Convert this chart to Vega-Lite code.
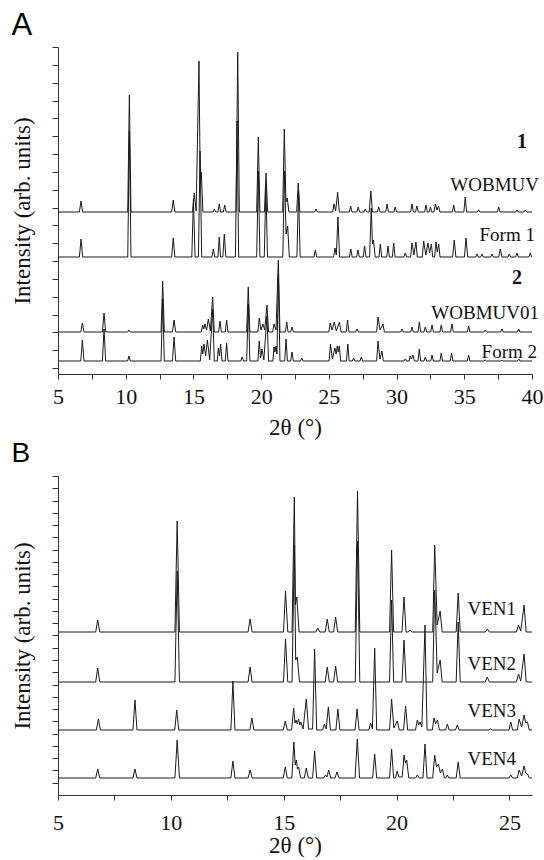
{
"$schema": "https://vega.github.io/schema/vega-lite/v6.json",
"padding": {"left": 11, "top": 9, "right": 0, "bottom": 0},
"spacing": 0,
"config": {
 "font": "Liberation Serif",
 "view": {"stroke": null},
 "axis": {"grid": false, "domainColor": "#333", "tickColor": "#333", "labelColor": "#111", "titleColor": "#111", "labelFont": "Liberation Serif", "titleFont": "Liberation Serif", "labelFontSize": 22, "titleFontSize": 23, "titleFontWeight": "normal", "domainWidth": 1, "tickWidth": 1},
 "title": {"font": "Liberation Sans", "fontWeight": "normal", "color": "#000", "anchor": "start", "frame": "bounds"}
},
"datasets": {
"a": [
{"s":"WOBMUV","x":5,"y":162},{"s":"WOBMUV","x":6.58,"y":162},{"s":"WOBMUV","x":6.7,"y":173},{"s":"WOBMUV","x":6.82,"y":162},{"s":"WOBMUV","x":10.15,"y":162},{"s":"WOBMUV","x":10.27,"y":279},{"s":"WOBMUV","x":10.39,"y":162},{"s":"WOBMUV","x":13.39,"y":162},{"s":"WOBMUV","x":13.51,"y":174},{"s":"WOBMUV","x":13.63,"y":162},{"s":"WOBMUV","x":14.94,"y":162},{"s":"WOBMUV","x":15.06,"y":181},{"s":"WOBMUV","x":15.2,"y":163},{"s":"WOBMUV","x":15.41,"y":313},{"s":"WOBMUV","x":15.5,"y":195},{"s":"WOBMUV","x":15.58,"y":202},{"s":"WOBMUV","x":15.7,"y":162},{"s":"WOBMUV","x":16.44,"y":162},{"s":"WOBMUV","x":16.54,"y":165},{"s":"WOBMUV","x":16.64,"y":162},{"s":"WOBMUV","x":16.81,"y":162},{"s":"WOBMUV","x":16.91,"y":170},{"s":"WOBMUV","x":17.01,"y":162},{"s":"WOBMUV","x":17.21,"y":162},{"s":"WOBMUV","x":17.31,"y":169},{"s":"WOBMUV","x":17.41,"y":162},{"s":"WOBMUV","x":18.15,"y":162},{"s":"WOBMUV","x":18.27,"y":322},{"s":"WOBMUV","x":18.39,"y":162},{"s":"WOBMUV","x":19.67,"y":162},{"s":"WOBMUV","x":19.79,"y":237},{"s":"WOBMUV","x":19.91,"y":162},{"s":"WOBMUV","x":20.24,"y":162},{"s":"WOBMUV","x":20.36,"y":201},{"s":"WOBMUV","x":20.48,"y":162},{"s":"WOBMUV","x":21.59,"y":162},{"s":"WOBMUV","x":21.71,"y":245},{"s":"WOBMUV","x":21.83,"y":172},{"s":"WOBMUV","x":21.93,"y":176},{"s":"WOBMUV","x":22.05,"y":162},{"s":"WOBMUV","x":22.62,"y":162},{"s":"WOBMUV","x":22.74,"y":191},{"s":"WOBMUV","x":22.86,"y":162},{"s":"WOBMUV","x":23.95,"y":162},{"s":"WOBMUV","x":24.05,"y":165},{"s":"WOBMUV","x":24.15,"y":162},{"s":"WOBMUV","x":25.28,"y":162},{"s":"WOBMUV","x":25.38,"y":170},{"s":"WOBMUV","x":25.5,"y":163},{"s":"WOBMUV","x":25.65,"y":182},{"s":"WOBMUV","x":25.77,"y":162},{"s":"WOBMUV","x":26.51,"y":162},{"s":"WOBMUV","x":26.61,"y":168},{"s":"WOBMUV","x":26.71,"y":162},{"s":"WOBMUV","x":27.07,"y":162},{"s":"WOBMUV","x":27.17,"y":167},{"s":"WOBMUV","x":27.27,"y":162},{"s":"WOBMUV","x":27.59,"y":162},{"s":"WOBMUV","x":27.69,"y":165},{"s":"WOBMUV","x":27.79,"y":162},{"s":"WOBMUV","x":27.98,"y":162},{"s":"WOBMUV","x":28.1,"y":183},{"s":"WOBMUV","x":28.22,"y":162},{"s":"WOBMUV","x":28.58,"y":162},{"s":"WOBMUV","x":28.68,"y":167},{"s":"WOBMUV","x":28.78,"y":162},{"s":"WOBMUV","x":29.2,"y":162},{"s":"WOBMUV","x":29.3,"y":170},{"s":"WOBMUV","x":29.4,"y":162},{"s":"WOBMUV","x":29.8,"y":162},{"s":"WOBMUV","x":29.9,"y":167},{"s":"WOBMUV","x":30,"y":162},{"s":"WOBMUV","x":31.04,"y":162},{"s":"WOBMUV","x":31.14,"y":170},{"s":"WOBMUV","x":31.24,"y":162},{"s":"WOBMUV","x":31.4,"y":162},{"s":"WOBMUV","x":31.5,"y":168},{"s":"WOBMUV","x":31.6,"y":162},{"s":"WOBMUV","x":32.07,"y":162},{"s":"WOBMUV","x":32.17,"y":169},{"s":"WOBMUV","x":32.27,"y":162},{"s":"WOBMUV","x":32.4,"y":162},{"s":"WOBMUV","x":32.5,"y":167},{"s":"WOBMUV","x":32.6,"y":162},{"s":"WOBMUV","x":32.76,"y":162},{"s":"WOBMUV","x":32.86,"y":170},{"s":"WOBMUV","x":32.98,"y":164},{"s":"WOBMUV","x":33.1,"y":168},{"s":"WOBMUV","x":33.2,"y":162},{"s":"WOBMUV","x":34.12,"y":162},{"s":"WOBMUV","x":34.22,"y":169},{"s":"WOBMUV","x":34.32,"y":162},{"s":"WOBMUV","x":34.97,"y":162},{"s":"WOBMUV","x":35.07,"y":177},{"s":"WOBMUV","x":35.17,"y":162},{"s":"WOBMUV","x":35.96,"y":162},{"s":"WOBMUV","x":36.06,"y":164},{"s":"WOBMUV","x":36.16,"y":162},{"s":"WOBMUV","x":37.44,"y":162},{"s":"WOBMUV","x":37.54,"y":167},{"s":"WOBMUV","x":37.64,"y":162},{"s":"WOBMUV","x":38.79,"y":162},{"s":"WOBMUV","x":38.89,"y":164},{"s":"WOBMUV","x":38.99,"y":162},{"s":"WOBMUV","x":39.4,"y":162},{"s":"WOBMUV","x":39.5,"y":164},{"s":"WOBMUV","x":39.6,"y":162},{"s":"WOBMUV","x":40,"y":162},

{"s":"Form 1","x":5,"y":117},{"s":"Form 1","x":6.58,"y":117},{"s":"Form 1","x":6.7,"y":135},{"s":"Form 1","x":6.82,"y":117},{"s":"Form 1","x":10.15,"y":117},{"s":"Form 1","x":10.27,"y":243},{"s":"Form 1","x":10.39,"y":117},{"s":"Form 1","x":13.39,"y":117},{"s":"Form 1","x":13.51,"y":136},{"s":"Form 1","x":13.63,"y":117},{"s":"Form 1","x":14.88,"y":117},{"s":"Form 1","x":15,"y":175},{"s":"Form 1","x":15.12,"y":117},{"s":"Form 1","x":15.37,"y":117},{"s":"Form 1","x":15.49,"y":223},{"s":"Form 1","x":15.61,"y":117},{"s":"Form 1","x":16.37,"y":117},{"s":"Form 1","x":16.47,"y":125},{"s":"Form 1","x":16.57,"y":117},{"s":"Form 1","x":16.81,"y":117},{"s":"Form 1","x":16.91,"y":137},{"s":"Form 1","x":17,"y":117},{"s":"Form 1","x":17.17,"y":117},{"s":"Form 1","x":17.28,"y":140},{"s":"Form 1","x":17.39,"y":117},{"s":"Form 1","x":18.1,"y":117},{"s":"Form 1","x":18.22,"y":253},{"s":"Form 1","x":18.34,"y":117},{"s":"Form 1","x":19.67,"y":117},{"s":"Form 1","x":19.79,"y":203},{"s":"Form 1","x":19.91,"y":117},{"s":"Form 1","x":20.23,"y":117},{"s":"Form 1","x":20.35,"y":188},{"s":"Form 1","x":20.47,"y":117},{"s":"Form 1","x":21.6,"y":117},{"s":"Form 1","x":21.72,"y":203},{"s":"Form 1","x":21.84,"y":140},{"s":"Form 1","x":21.96,"y":148},{"s":"Form 1","x":22.08,"y":117},{"s":"Form 1","x":22.64,"y":117},{"s":"Form 1","x":22.76,"y":183},{"s":"Form 1","x":22.88,"y":117},{"s":"Form 1","x":23.9,"y":117},{"s":"Form 1","x":24,"y":124},{"s":"Form 1","x":24.1,"y":117},{"s":"Form 1","x":25.35,"y":117},{"s":"Form 1","x":25.45,"y":126},{"s":"Form 1","x":25.55,"y":119},{"s":"Form 1","x":25.67,"y":157},{"s":"Form 1","x":25.79,"y":117},{"s":"Form 1","x":26.52,"y":117},{"s":"Form 1","x":26.62,"y":125},{"s":"Form 1","x":26.72,"y":117},{"s":"Form 1","x":27.05,"y":117},{"s":"Form 1","x":27.15,"y":124},{"s":"Form 1","x":27.25,"y":117},{"s":"Form 1","x":27.54,"y":117},{"s":"Form 1","x":27.64,"y":128},{"s":"Form 1","x":27.74,"y":117},{"s":"Form 1","x":28.01,"y":117},{"s":"Form 1","x":28.13,"y":166},{"s":"Form 1","x":28.22,"y":130},{"s":"Form 1","x":28.3,"y":134},{"s":"Form 1","x":28.42,"y":117},{"s":"Form 1","x":28.7,"y":117},{"s":"Form 1","x":28.8,"y":130},{"s":"Form 1","x":28.9,"y":117},{"s":"Form 1","x":29.27,"y":117},{"s":"Form 1","x":29.37,"y":128},{"s":"Form 1","x":29.47,"y":117},{"s":"Form 1","x":29.69,"y":117},{"s":"Form 1","x":29.79,"y":131},{"s":"Form 1","x":29.89,"y":117},{"s":"Form 1","x":30.54,"y":117},{"s":"Form 1","x":30.64,"y":121},{"s":"Form 1","x":30.74,"y":117},{"s":"Form 1","x":31.04,"y":117},{"s":"Form 1","x":31.14,"y":131},{"s":"Form 1","x":31.28,"y":119},{"s":"Form 1","x":31.43,"y":132},{"s":"Form 1","x":31.53,"y":117},{"s":"Form 1","x":31.9,"y":117},{"s":"Form 1","x":32,"y":133},{"s":"Form 1","x":32.16,"y":119},{"s":"Form 1","x":32.32,"y":131},{"s":"Form 1","x":32.44,"y":121},{"s":"Form 1","x":32.57,"y":130},{"s":"Form 1","x":32.67,"y":117},{"s":"Form 1","x":32.81,"y":117},{"s":"Form 1","x":32.91,"y":132},{"s":"Form 1","x":33.01,"y":122},{"s":"Form 1","x":33.11,"y":130},{"s":"Form 1","x":33.21,"y":117},{"s":"Form 1","x":34.14,"y":117},{"s":"Form 1","x":34.26,"y":134},{"s":"Form 1","x":34.38,"y":117},{"s":"Form 1","x":35.01,"y":117},{"s":"Form 1","x":35.13,"y":136},{"s":"Form 1","x":35.25,"y":117},{"s":"Form 1","x":35.84,"y":117},{"s":"Form 1","x":35.94,"y":120},{"s":"Form 1","x":36.04,"y":117},{"s":"Form 1","x":36.21,"y":117},{"s":"Form 1","x":36.31,"y":120},{"s":"Form 1","x":36.41,"y":117},{"s":"Form 1","x":36.95,"y":117},{"s":"Form 1","x":37.05,"y":120},{"s":"Form 1","x":37.15,"y":117},{"s":"Form 1","x":37.54,"y":117},{"s":"Form 1","x":37.66,"y":125},{"s":"Form 1","x":37.78,"y":117},{"s":"Form 1","x":38.22,"y":117},{"s":"Form 1","x":38.32,"y":120},{"s":"Form 1","x":38.42,"y":117},{"s":"Form 1","x":38.79,"y":117},{"s":"Form 1","x":38.89,"y":121},{"s":"Form 1","x":38.99,"y":117},{"s":"Form 1","x":39.77,"y":117},{"s":"Form 1","x":39.87,"y":121},{"s":"Form 1","x":39.97,"y":117},{"s":"Form 1","x":40,"y":117},

{"s":"WOBMUV01","x":5,"y":42},{"s":"WOBMUV01","x":6.68,"y":42},{"s":"WOBMUV01","x":6.8,"y":51},{"s":"WOBMUV01","x":6.92,"y":42},{"s":"WOBMUV01","x":8.28,"y":42},{"s":"WOBMUV01","x":8.4,"y":61},{"s":"WOBMUV01","x":8.52,"y":42},{"s":"WOBMUV01","x":10.14,"y":42},{"s":"WOBMUV01","x":10.24,"y":44},{"s":"WOBMUV01","x":10.34,"y":42},{"s":"WOBMUV01","x":12.61,"y":42},{"s":"WOBMUV01","x":12.73,"y":93},{"s":"WOBMUV01","x":12.85,"y":42},{"s":"WOBMUV01","x":13.45,"y":42},{"s":"WOBMUV01","x":13.57,"y":54},{"s":"WOBMUV01","x":13.69,"y":42},{"s":"WOBMUV01","x":15.58,"y":42},{"s":"WOBMUV01","x":15.68,"y":49},{"s":"WOBMUV01","x":15.76,"y":45},{"s":"WOBMUV01","x":15.85,"y":50},{"s":"WOBMUV01","x":15.97,"y":44},{"s":"WOBMUV01","x":16.1,"y":55},{"s":"WOBMUV01","x":16.25,"y":43},{"s":"WOBMUV01","x":16.42,"y":77},{"s":"WOBMUV01","x":16.54,"y":42},{"s":"WOBMUV01","x":16.86,"y":42},{"s":"WOBMUV01","x":16.96,"y":53},{"s":"WOBMUV01","x":17.06,"y":42},{"s":"WOBMUV01","x":17.35,"y":42},{"s":"WOBMUV01","x":17.45,"y":54},{"s":"WOBMUV01","x":17.55,"y":42},{"s":"WOBMUV01","x":18.93,"y":42},{"s":"WOBMUV01","x":19.05,"y":87},{"s":"WOBMUV01","x":19.17,"y":42},{"s":"WOBMUV01","x":19.76,"y":42},{"s":"WOBMUV01","x":19.86,"y":56},{"s":"WOBMUV01","x":19.99,"y":44},{"s":"WOBMUV01","x":20.13,"y":50},{"s":"WOBMUV01","x":20.26,"y":44},{"s":"WOBMUV01","x":20.43,"y":69},{"s":"WOBMUV01","x":20.55,"y":42},{"s":"WOBMUV01","x":20.85,"y":42},{"s":"WOBMUV01","x":20.95,"y":50},{"s":"WOBMUV01","x":21.1,"y":44},{"s":"WOBMUV01","x":21.27,"y":114},{"s":"WOBMUV01","x":21.39,"y":42},{"s":"WOBMUV01","x":21.79,"y":42},{"s":"WOBMUV01","x":21.89,"y":52},{"s":"WOBMUV01","x":21.99,"y":42},{"s":"WOBMUV01","x":22.18,"y":42},{"s":"WOBMUV01","x":22.28,"y":47},{"s":"WOBMUV01","x":22.38,"y":42},{"s":"WOBMUV01","x":25,"y":42},{"s":"WOBMUV01","x":25.1,"y":51},{"s":"WOBMUV01","x":25.24,"y":44},{"s":"WOBMUV01","x":25.4,"y":52},{"s":"WOBMUV01","x":25.55,"y":43},{"s":"WOBMUV01","x":25.78,"y":52},{"s":"WOBMUV01","x":25.9,"y":42},{"s":"WOBMUV01","x":26.28,"y":42},{"s":"WOBMUV01","x":26.38,"y":54},{"s":"WOBMUV01","x":26.48,"y":42},{"s":"WOBMUV01","x":26.98,"y":42},{"s":"WOBMUV01","x":27.08,"y":45},{"s":"WOBMUV01","x":27.18,"y":42},{"s":"WOBMUV01","x":28.53,"y":42},{"s":"WOBMUV01","x":28.63,"y":57},{"s":"WOBMUV01","x":28.78,"y":44},{"s":"WOBMUV01","x":29,"y":50},{"s":"WOBMUV01","x":29.1,"y":42},{"s":"WOBMUV01","x":30.3,"y":42},{"s":"WOBMUV01","x":30.4,"y":45},{"s":"WOBMUV01","x":30.5,"y":42},{"s":"WOBMUV01","x":31.04,"y":42},{"s":"WOBMUV01","x":31.14,"y":47},{"s":"WOBMUV01","x":31.24,"y":42},{"s":"WOBMUV01","x":31.58,"y":42},{"s":"WOBMUV01","x":31.68,"y":52},{"s":"WOBMUV01","x":31.78,"y":42},{"s":"WOBMUV01","x":32.02,"y":42},{"s":"WOBMUV01","x":32.12,"y":47},{"s":"WOBMUV01","x":32.22,"y":42},{"s":"WOBMUV01","x":32.52,"y":42},{"s":"WOBMUV01","x":32.62,"y":49},{"s":"WOBMUV01","x":32.72,"y":42},{"s":"WOBMUV01","x":33.2,"y":42},{"s":"WOBMUV01","x":33.3,"y":49},{"s":"WOBMUV01","x":33.4,"y":42},{"s":"WOBMUV01","x":33.99,"y":42},{"s":"WOBMUV01","x":34.09,"y":50},{"s":"WOBMUV01","x":34.19,"y":42},{"s":"WOBMUV01","x":35.22,"y":42},{"s":"WOBMUV01","x":35.32,"y":48},{"s":"WOBMUV01","x":35.42,"y":42},{"s":"WOBMUV01","x":36.45,"y":42},{"s":"WOBMUV01","x":36.55,"y":44},{"s":"WOBMUV01","x":36.65,"y":42},{"s":"WOBMUV01","x":37.68,"y":42},{"s":"WOBMUV01","x":37.78,"y":45},{"s":"WOBMUV01","x":37.88,"y":42},{"s":"WOBMUV01","x":38.92,"y":42},{"s":"WOBMUV01","x":39.02,"y":45},{"s":"WOBMUV01","x":39.12,"y":42},{"s":"WOBMUV01","x":40,"y":42},

{"s":"Form 2","x":5,"y":13},{"s":"Form 2","x":6.68,"y":13},{"s":"Form 2","x":6.8,"y":34},{"s":"Form 2","x":6.92,"y":13},{"s":"Form 2","x":8.28,"y":13},{"s":"Form 2","x":8.4,"y":45},{"s":"Form 2","x":8.52,"y":13},{"s":"Form 2","x":10.14,"y":13},{"s":"Form 2","x":10.24,"y":18},{"s":"Form 2","x":10.34,"y":13},{"s":"Form 2","x":12.61,"y":13},{"s":"Form 2","x":12.73,"y":75},{"s":"Form 2","x":12.85,"y":13},{"s":"Form 2","x":13.45,"y":13},{"s":"Form 2","x":13.57,"y":37},{"s":"Form 2","x":13.69,"y":13},{"s":"Form 2","x":15.51,"y":13},{"s":"Form 2","x":15.61,"y":28},{"s":"Form 2","x":15.69,"y":20},{"s":"Form 2","x":15.78,"y":30},{"s":"Form 2","x":15.9,"y":18},{"s":"Form 2","x":16.03,"y":34},{"s":"Form 2","x":16.2,"y":14},{"s":"Form 2","x":16.42,"y":65},{"s":"Form 2","x":16.54,"y":13},{"s":"Form 2","x":16.76,"y":13},{"s":"Form 2","x":16.84,"y":26},{"s":"Form 2","x":16.92,"y":18},{"s":"Form 2","x":17.01,"y":30},{"s":"Form 2","x":17.11,"y":13},{"s":"Form 2","x":17.35,"y":13},{"s":"Form 2","x":17.45,"y":31},{"s":"Form 2","x":17.55,"y":13},{"s":"Form 2","x":18.5,"y":13},{"s":"Form 2","x":18.6,"y":17},{"s":"Form 2","x":18.7,"y":13},{"s":"Form 2","x":18.93,"y":13},{"s":"Form 2","x":19.05,"y":70},{"s":"Form 2","x":19.17,"y":13},{"s":"Form 2","x":19.76,"y":13},{"s":"Form 2","x":19.86,"y":33},{"s":"Form 2","x":19.96,"y":16},{"s":"Form 2","x":20.06,"y":25},{"s":"Form 2","x":20.2,"y":14},{"s":"Form 2","x":20.43,"y":58},{"s":"Form 2","x":20.55,"y":13},{"s":"Form 2","x":20.87,"y":13},{"s":"Form 2","x":20.95,"y":27},{"s":"Form 2","x":21.02,"y":22},{"s":"Form 2","x":21.1,"y":28},{"s":"Form 2","x":21.17,"y":20},{"s":"Form 2","x":21.27,"y":100},{"s":"Form 2","x":21.39,"y":13},{"s":"Form 2","x":21.74,"y":13},{"s":"Form 2","x":21.84,"y":35},{"s":"Form 2","x":21.94,"y":13},{"s":"Form 2","x":22.18,"y":13},{"s":"Form 2","x":22.28,"y":22},{"s":"Form 2","x":22.38,"y":13},{"s":"Form 2","x":22.9,"y":13},{"s":"Form 2","x":23,"y":16},{"s":"Form 2","x":23.1,"y":13},{"s":"Form 2","x":25.02,"y":13},{"s":"Form 2","x":25.12,"y":30},{"s":"Form 2","x":25.26,"y":15},{"s":"Form 2","x":25.45,"y":26},{"s":"Form 2","x":25.54,"y":20},{"s":"Form 2","x":25.62,"y":28},{"s":"Form 2","x":25.7,"y":22},{"s":"Form 2","x":25.77,"y":28},{"s":"Form 2","x":25.87,"y":13},{"s":"Form 2","x":26.3,"y":13},{"s":"Form 2","x":26.4,"y":30},{"s":"Form 2","x":26.5,"y":13},{"s":"Form 2","x":26.73,"y":13},{"s":"Form 2","x":26.83,"y":16},{"s":"Form 2","x":26.93,"y":13},{"s":"Form 2","x":27.3,"y":13},{"s":"Form 2","x":27.4,"y":17},{"s":"Form 2","x":27.5,"y":13},{"s":"Form 2","x":28.53,"y":13},{"s":"Form 2","x":28.63,"y":33},{"s":"Form 2","x":28.77,"y":15},{"s":"Form 2","x":28.92,"y":23},{"s":"Form 2","x":29.02,"y":13},{"s":"Form 2","x":30.54,"y":13},{"s":"Form 2","x":30.64,"y":15},{"s":"Form 2","x":30.74,"y":13},{"s":"Form 2","x":30.92,"y":13},{"s":"Form 2","x":31,"y":18},{"s":"Form 2","x":31.1,"y":15},{"s":"Form 2","x":31.21,"y":19},{"s":"Form 2","x":31.31,"y":13},{"s":"Form 2","x":31.58,"y":13},{"s":"Form 2","x":31.68,"y":25},{"s":"Form 2","x":31.78,"y":13},{"s":"Form 2","x":32.02,"y":13},{"s":"Form 2","x":32.12,"y":17},{"s":"Form 2","x":32.22,"y":13},{"s":"Form 2","x":32.52,"y":13},{"s":"Form 2","x":32.62,"y":19},{"s":"Form 2","x":32.72,"y":13},{"s":"Form 2","x":33.2,"y":13},{"s":"Form 2","x":33.3,"y":21},{"s":"Form 2","x":33.4,"y":13},{"s":"Form 2","x":33.96,"y":13},{"s":"Form 2","x":34.06,"y":21},{"s":"Form 2","x":34.16,"y":13},{"s":"Form 2","x":35.22,"y":13},{"s":"Form 2","x":35.32,"y":19},{"s":"Form 2","x":35.42,"y":13},{"s":"Form 2","x":36.45,"y":13},{"s":"Form 2","x":36.55,"y":14},{"s":"Form 2","x":36.65,"y":13},{"s":"Form 2","x":37.68,"y":13},{"s":"Form 2","x":37.78,"y":14},{"s":"Form 2","x":37.88,"y":13},{"s":"Form 2","x":38.92,"y":13},{"s":"Form 2","x":39.02,"y":15},{"s":"Form 2","x":39.12,"y":13},{"s":"Form 2","x":40,"y":13}
],
"b": [
{"s":"VEN1","x":5,"y":163},{"s":"VEN1","x":6.67,"y":163},{"s":"VEN1","x":6.76,"y":175},{"s":"VEN1","x":6.85,"y":163},{"s":"VEN1","x":10.18,"y":163},{"s":"VEN1","x":10.28,"y":274},{"s":"VEN1","x":10.38,"y":163},{"s":"VEN1","x":13.42,"y":163},{"s":"VEN1","x":13.51,"y":176},{"s":"VEN1","x":13.6,"y":163},{"s":"VEN1","x":14.99,"y":163},{"s":"VEN1","x":15.08,"y":204},{"s":"VEN1","x":15.18,"y":163},{"s":"VEN1","x":15.37,"y":163},{"s":"VEN1","x":15.47,"y":298},{"s":"VEN1","x":15.52,"y":190},{"s":"VEN1","x":15.58,"y":198},{"s":"VEN1","x":15.68,"y":163},{"s":"VEN1","x":16.42,"y":163},{"s":"VEN1","x":16.51,"y":167},{"s":"VEN1","x":16.6,"y":163},{"s":"VEN1","x":16.84,"y":163},{"s":"VEN1","x":16.93,"y":176},{"s":"VEN1","x":17.02,"y":163},{"s":"VEN1","x":17.21,"y":163},{"s":"VEN1","x":17.3,"y":178},{"s":"VEN1","x":17.39,"y":163},{"s":"VEN1","x":18.17,"y":163},{"s":"VEN1","x":18.27,"y":304},{"s":"VEN1","x":18.37,"y":163},{"s":"VEN1","x":19.69,"y":163},{"s":"VEN1","x":19.78,"y":245},{"s":"VEN1","x":19.87,"y":163},{"s":"VEN1","x":20.24,"y":163},{"s":"VEN1","x":20.33,"y":198},{"s":"VEN1","x":20.42,"y":163},{"s":"VEN1","x":20.52,"y":163},{"s":"VEN1","x":20.6,"y":165},{"s":"VEN1","x":20.68,"y":163},{"s":"VEN1","x":21.6,"y":163},{"s":"VEN1","x":21.69,"y":250},{"s":"VEN1","x":21.8,"y":170},{"s":"VEN1","x":21.93,"y":184},{"s":"VEN1","x":22.02,"y":163},{"s":"VEN1","x":22.64,"y":163},{"s":"VEN1","x":22.73,"y":202},{"s":"VEN1","x":22.82,"y":163},{"s":"VEN1","x":23.93,"y":163},{"s":"VEN1","x":24.02,"y":166},{"s":"VEN1","x":24.11,"y":163},{"s":"VEN1","x":25.31,"y":163},{"s":"VEN1","x":25.4,"y":170},{"s":"VEN1","x":25.5,"y":164},{"s":"VEN1","x":25.65,"y":190},{"s":"VEN1","x":25.74,"y":163},{"s":"VEN1","x":26,"y":163},

{"s":"VEN2","x":5,"y":113},{"s":"VEN2","x":6.67,"y":113},{"s":"VEN2","x":6.76,"y":127},{"s":"VEN2","x":6.85,"y":113},{"s":"VEN2","x":10.18,"y":113},{"s":"VEN2","x":10.28,"y":224},{"s":"VEN2","x":10.38,"y":113},{"s":"VEN2","x":13.42,"y":113},{"s":"VEN2","x":13.51,"y":128},{"s":"VEN2","x":13.6,"y":113},{"s":"VEN2","x":14.99,"y":113},{"s":"VEN2","x":15.08,"y":156},{"s":"VEN2","x":15.18,"y":113},{"s":"VEN2","x":15.37,"y":113},{"s":"VEN2","x":15.47,"y":250},{"s":"VEN2","x":15.53,"y":135},{"s":"VEN2","x":15.6,"y":138},{"s":"VEN2","x":15.7,"y":113},{"s":"VEN2","x":16.84,"y":113},{"s":"VEN2","x":16.93,"y":128},{"s":"VEN2","x":17.02,"y":113},{"s":"VEN2","x":17.21,"y":113},{"s":"VEN2","x":17.3,"y":129},{"s":"VEN2","x":17.39,"y":113},{"s":"VEN2","x":18.17,"y":113},{"s":"VEN2","x":18.27,"y":254},{"s":"VEN2","x":18.37,"y":113},{"s":"VEN2","x":19.69,"y":113},{"s":"VEN2","x":19.78,"y":195},{"s":"VEN2","x":19.87,"y":113},{"s":"VEN2","x":20.24,"y":113},{"s":"VEN2","x":20.33,"y":155},{"s":"VEN2","x":20.42,"y":113},{"s":"VEN2","x":21.6,"y":113},{"s":"VEN2","x":21.69,"y":205},{"s":"VEN2","x":21.8,"y":122},{"s":"VEN2","x":21.93,"y":135},{"s":"VEN2","x":22.02,"y":113},{"s":"VEN2","x":22.64,"y":113},{"s":"VEN2","x":22.73,"y":173},{"s":"VEN2","x":22.82,"y":113},{"s":"VEN2","x":23.93,"y":113},{"s":"VEN2","x":24.02,"y":118},{"s":"VEN2","x":24.11,"y":113},{"s":"VEN2","x":25.31,"y":113},{"s":"VEN2","x":25.4,"y":121},{"s":"VEN2","x":25.5,"y":114},{"s":"VEN2","x":25.65,"y":141},{"s":"VEN2","x":25.74,"y":113},{"s":"VEN2","x":26,"y":113},

{"s":"VEN3","x":5,"y":65},{"s":"VEN3","x":6.7,"y":65},{"s":"VEN3","x":6.79,"y":76},{"s":"VEN3","x":6.88,"y":65},{"s":"VEN3","x":8.32,"y":65},{"s":"VEN3","x":8.41,"y":95},{"s":"VEN3","x":8.5,"y":65},{"s":"VEN3","x":10.17,"y":65},{"s":"VEN3","x":10.26,"y":85},{"s":"VEN3","x":10.35,"y":65},{"s":"VEN3","x":12.66,"y":65},{"s":"VEN3","x":12.75,"y":114},{"s":"VEN3","x":12.84,"y":65},{"s":"VEN3","x":13.5,"y":65},{"s":"VEN3","x":13.59,"y":77},{"s":"VEN3","x":13.68,"y":65},{"s":"VEN3","x":14.98,"y":65},{"s":"VEN3","x":15.07,"y":74},{"s":"VEN3","x":15.16,"y":65},{"s":"VEN3","x":15.35,"y":65},{"s":"VEN3","x":15.44,"y":87},{"s":"VEN3","x":15.5,"y":72},{"s":"VEN3","x":15.55,"y":75},{"s":"VEN3","x":15.6,"y":71},{"s":"VEN3","x":15.66,"y":76},{"s":"VEN3","x":15.71,"y":70},{"s":"VEN3","x":15.76,"y":73},{"s":"VEN3","x":15.86,"y":66},{"s":"VEN3","x":16,"y":96},{"s":"VEN3","x":16.1,"y":66},{"s":"VEN3","x":16.28,"y":66},{"s":"VEN3","x":16.37,"y":146},{"s":"VEN3","x":16.46,"y":65},{"s":"VEN3","x":16.72,"y":65},{"s":"VEN3","x":16.8,"y":71},{"s":"VEN3","x":16.88,"y":66},{"s":"VEN3","x":16.98,"y":88},{"s":"VEN3","x":17.07,"y":65},{"s":"VEN3","x":17.31,"y":65},{"s":"VEN3","x":17.4,"y":86},{"s":"VEN3","x":17.49,"y":65},{"s":"VEN3","x":18.16,"y":65},{"s":"VEN3","x":18.25,"y":86},{"s":"VEN3","x":18.34,"y":65},{"s":"VEN3","x":18.77,"y":65},{"s":"VEN3","x":18.85,"y":72},{"s":"VEN3","x":18.93,"y":66},{"s":"VEN3","x":19.03,"y":147},{"s":"VEN3","x":19.12,"y":65},{"s":"VEN3","x":19.69,"y":65},{"s":"VEN3","x":19.78,"y":96},{"s":"VEN3","x":19.88,"y":67},{"s":"VEN3","x":20.03,"y":74},{"s":"VEN3","x":20.12,"y":65},{"s":"VEN3","x":20.31,"y":65},{"s":"VEN3","x":20.4,"y":89},{"s":"VEN3","x":20.49,"y":65},{"s":"VEN3","x":20.84,"y":65},{"s":"VEN3","x":20.92,"y":75},{"s":"VEN3","x":20.98,"y":70},{"s":"VEN3","x":21.04,"y":73},{"s":"VEN3","x":21.12,"y":68},{"s":"VEN3","x":21.26,"y":170},{"s":"VEN3","x":21.35,"y":65},{"s":"VEN3","x":21.58,"y":65},{"s":"VEN3","x":21.66,"y":77},{"s":"VEN3","x":21.73,"y":71},{"s":"VEN3","x":21.81,"y":75},{"s":"VEN3","x":21.9,"y":65},{"s":"VEN3","x":22.17,"y":65},{"s":"VEN3","x":22.25,"y":71},{"s":"VEN3","x":22.33,"y":65},{"s":"VEN3","x":22.61,"y":65},{"s":"VEN3","x":22.69,"y":70},{"s":"VEN3","x":22.77,"y":65},{"s":"VEN3","x":24.09,"y":65},{"s":"VEN3","x":24.17,"y":66},{"s":"VEN3","x":24.25,"y":65},{"s":"VEN3","x":24.98,"y":65},{"s":"VEN3","x":25.06,"y":73},{"s":"VEN3","x":25.14,"y":65},{"s":"VEN3","x":25.35,"y":65},{"s":"VEN3","x":25.43,"y":76},{"s":"VEN3","x":25.54,"y":68},{"s":"VEN3","x":25.65,"y":80},{"s":"VEN3","x":25.72,"y":72},{"s":"VEN3","x":25.8,"y":73},{"s":"VEN3","x":25.88,"y":65},{"s":"VEN3","x":26,"y":65},

{"s":"VEN4","x":5,"y":17},{"s":"VEN4","x":6.67,"y":17},{"s":"VEN4","x":6.76,"y":26},{"s":"VEN4","x":6.85,"y":17},{"s":"VEN4","x":8.32,"y":17},{"s":"VEN4","x":8.41,"y":26},{"s":"VEN4","x":8.5,"y":17},{"s":"VEN4","x":10.18,"y":17},{"s":"VEN4","x":10.28,"y":55},{"s":"VEN4","x":10.38,"y":17},{"s":"VEN4","x":12.66,"y":17},{"s":"VEN4","x":12.75,"y":34},{"s":"VEN4","x":12.84,"y":17},{"s":"VEN4","x":13.42,"y":17},{"s":"VEN4","x":13.51,"y":25},{"s":"VEN4","x":13.6,"y":17},{"s":"VEN4","x":14.98,"y":17},{"s":"VEN4","x":15.07,"y":28},{"s":"VEN4","x":15.16,"y":17},{"s":"VEN4","x":15.36,"y":17},{"s":"VEN4","x":15.45,"y":53},{"s":"VEN4","x":15.51,"y":30},{"s":"VEN4","x":15.56,"y":35},{"s":"VEN4","x":15.61,"y":26},{"s":"VEN4","x":15.66,"y":28},{"s":"VEN4","x":15.75,"y":17},{"s":"VEN4","x":15.91,"y":17},{"s":"VEN4","x":16,"y":27},{"s":"VEN4","x":16.09,"y":17},{"s":"VEN4","x":16.28,"y":17},{"s":"VEN4","x":16.37,"y":44},{"s":"VEN4","x":16.46,"y":17},{"s":"VEN4","x":16.77,"y":17},{"s":"VEN4","x":16.85,"y":20},{"s":"VEN4","x":16.92,"y":18},{"s":"VEN4","x":16.99,"y":25},{"s":"VEN4","x":17.08,"y":17},{"s":"VEN4","x":17.27,"y":17},{"s":"VEN4","x":17.36,"y":23},{"s":"VEN4","x":17.45,"y":17},{"s":"VEN4","x":18.16,"y":17},{"s":"VEN4","x":18.26,"y":56},{"s":"VEN4","x":18.36,"y":17},{"s":"VEN4","x":18.94,"y":17},{"s":"VEN4","x":19.03,"y":41},{"s":"VEN4","x":19.12,"y":17},{"s":"VEN4","x":19.69,"y":17},{"s":"VEN4","x":19.78,"y":46},{"s":"VEN4","x":19.87,"y":17},{"s":"VEN4","x":19.95,"y":17},{"s":"VEN4","x":20.03,"y":24},{"s":"VEN4","x":20.1,"y":18},{"s":"VEN4","x":20.25,"y":18},{"s":"VEN4","x":20.33,"y":40},{"s":"VEN4","x":20.39,"y":32},{"s":"VEN4","x":20.45,"y":35},{"s":"VEN4","x":20.54,"y":17},{"s":"VEN4","x":20.84,"y":17},{"s":"VEN4","x":20.92,"y":20},{"s":"VEN4","x":21,"y":17},{"s":"VEN4","x":21.17,"y":17},{"s":"VEN4","x":21.26,"y":51},{"s":"VEN4","x":21.35,"y":17},{"s":"VEN4","x":21.6,"y":17},{"s":"VEN4","x":21.69,"y":40},{"s":"VEN4","x":21.77,"y":28},{"s":"VEN4","x":21.85,"y":31},{"s":"VEN4","x":21.94,"y":22},{"s":"VEN4","x":22.03,"y":26},{"s":"VEN4","x":22.12,"y":17},{"s":"VEN4","x":22.18,"y":17},{"s":"VEN4","x":22.25,"y":20},{"s":"VEN4","x":22.32,"y":17},{"s":"VEN4","x":22.64,"y":17},{"s":"VEN4","x":22.73,"y":33},{"s":"VEN4","x":22.82,"y":17},{"s":"VEN4","x":24.98,"y":17},{"s":"VEN4","x":25.06,"y":20},{"s":"VEN4","x":25.14,"y":17},{"s":"VEN4","x":25.35,"y":17},{"s":"VEN4","x":25.43,"y":25},{"s":"VEN4","x":25.54,"y":19},{"s":"VEN4","x":25.65,"y":29},{"s":"VEN4","x":25.72,"y":22},{"s":"VEN4","x":25.8,"y":21},{"s":"VEN4","x":25.88,"y":17},{"s":"VEN4","x":26,"y":17}
],
"la": [{"t":"WOBMUV","x":40.52,"y":183},{"t":"Form 1","x":40.22,"y":133},{"t":"WOBMUV01","x":40.52,"y":55},{"t":"Form 2","x":40.37,"y":16}],
"lab": [{"t":"1","x":39.63,"y":226},{"t":"2","x":39.26,"y":90}],
"lb": [{"t":"VEN1","x":23.14,"y":180},{"t":"VEN2","x":23.14,"y":125},{"t":"VEN3","x":23.14,"y":78},{"t":"VEN4","x":23.14,"y":30}]
},
"vconcat": [
{
 "width": 474, "height": 327,
 "title": {"text": "A", "fontSize": 31, "offset": 5},
 "encoding": {
  "x": {"field": "x", "type": "quantitative", "scale": {"domain": [5, 40], "nice": false, "zero": false},
        "axis": {"title": "2θ (°)", "labelFont": "Liberation Serif", "titleFont": "Liberation Serif", "values": [5,7.5,10,12.5,15,17.5,20,22.5,25,27.5,30,32.5,35,37.5,40], "labelExpr": "datum.value % 5 === 0 ? datum.label : ''", "tickSize": 5, "labelPadding": 7, "labelFlush": false, "labelOverlap": false, "titlePadding": 9}},
  "y": {"field": "y", "type": "quantitative", "scale": {"domain": [0, 327], "nice": false, "zero": false},
        "axis": {"title": "Intensity (arb. units)", "labelFont": "Liberation Serif", "titleFont": "Liberation Serif", "labels": false, "values": [6,23.8,41.7,59.5,77.3,95.2,113,130.8,148.7,166.5,184.3,202.2,220,237.8,255.7,273.5,291.3,309.2,327], "tickSize": 6, "titlePadding": 17}}
 },
 "layer": [
  {"data": {"name": "a"}, "mark": {"type": "line", "color": "#1a1a1a", "strokeWidth": 1},
   "encoding": {"detail": {"field": "s", "type": "nominal"}}},
  {"data": {"name": "la"}, "mark": {"type": "text", "align": "right", "baseline": "alphabetic", "font": "Liberation Serif", "fontSize": 19, "color": "#111"},
   "encoding": {"text": {"field": "t"}}},
  {"data": {"name": "lab"}, "mark": {"type": "text", "align": "right", "baseline": "alphabetic", "font": "Liberation Serif", "fontSize": 20, "fontWeight": "bold", "color": "#111"},
   "encoding": {"text": {"field": "t"}}}
 ]
},
{
 "width": 474, "height": 319,
 "title": {"text": "B", "fontSize": 28, "offset": 8},
 "encoding": {
  "x": {"field": "x", "type": "quantitative", "scale": {"domain": [5, 26], "nice": false, "zero": false},
        "axis": {"title": "2θ (°)", "labelFont": "Liberation Serif", "titleFont": "Liberation Serif", "values": [5,7.5,10,12.5,15,17.5,20,22.5,25], "labelExpr": "datum.value % 5 === 0 ? datum.label : ''", "tickSize": 5, "labelPadding": 12, "labelFlush": false, "labelOverlap": false, "titlePadding": 1}},
  "y": {"field": "y", "type": "quantitative", "scale": {"domain": [0, 319], "nice": false, "zero": false},
        "axis": {"title": "Intensity (arb. units)", "labelFont": "Liberation Serif", "titleFont": "Liberation Serif", "labels": false, "values": [12.27,24.54,36.81,49.08,61.35,73.62,85.89,98.16,110.43,122.7,134.97,147.24,159.51,171.78,184.05,196.32,208.59,220.86,233.13,245.4,257.67,269.94,282.21,294.48,306.75,319], "tickSize": 6, "titlePadding": 17}}
 },
 "layer": [
  {"data": {"name": "b"}, "mark": {"type": "line", "color": "#1a1a1a", "strokeWidth": 1},
   "encoding": {"detail": {"field": "s", "type": "nominal"}}},
  {"data": {"name": "lb"}, "mark": {"type": "text", "align": "left", "baseline": "alphabetic", "font": "Liberation Serif", "fontSize": 19, "color": "#111"},
   "encoding": {"text": {"field": "t"}}}
 ]
}
]
}
